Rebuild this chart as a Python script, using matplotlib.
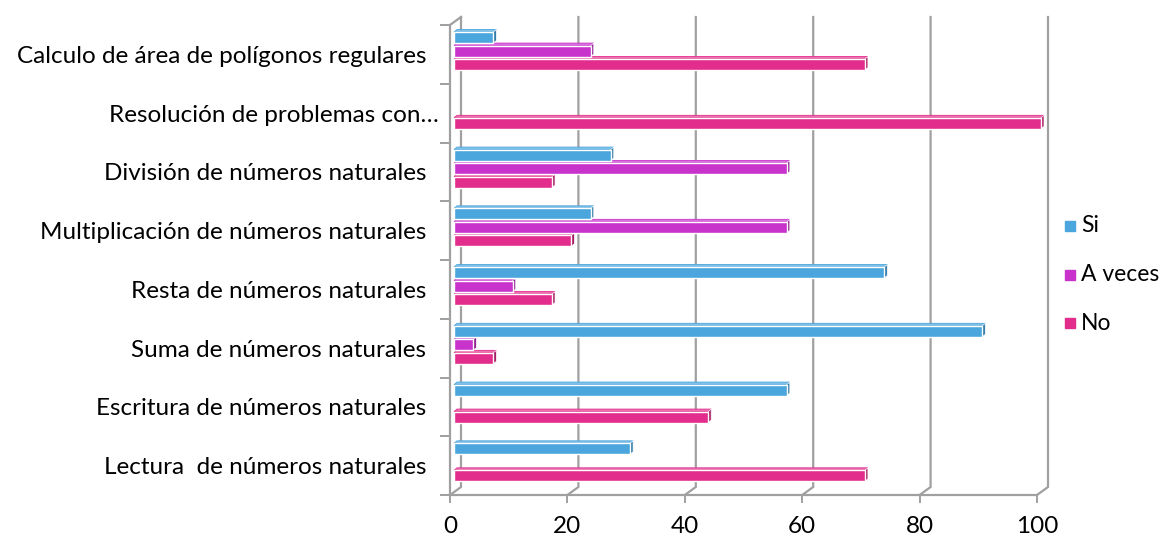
import matplotlib
matplotlib.use("Agg")
import matplotlib.pyplot as plt
import numpy as np
from matplotlib.patches import Polygon, Rectangle

plt.rcParams['font.family'] = ['Lato', 'DejaVu Sans']

categories = [
    "Lectura  de números naturales  ",
    "Escritura de números naturales  ",
    "Suma de números naturales  ",
    "Resta de números naturales  ",
    "Multiplicación de números naturales  ",
    "División de números naturales  ",
    "Resolución de problemas con…",
    "Calculo de área de polígonos regulares  ",
]
si = [30.0, 56.7, 90.0, 73.3, 23.3, 26.7, 0.0, 6.7]
a_veces = [0.0, 0.0, 3.3, 10.0, 56.7, 56.7, 0.0, 23.3]
no = [70.0, 43.3, 6.7, 16.7, 20.0, 16.7, 100.0, 70.0]
series_names = ["Si", "A veces", "No"]
xticks = [0, 20, 40, 60, 80, 100]

colors = ["#4BA6DD", "#C833CB", "#E32D8D"]
tops = ["#7FC0E8", "#D86FDB", "#EC6FAF"]
sides = ["#2F79A6", "#8E1F91", "#A51B63"]

W, H = 1169, 540
fig = plt.figure(figsize=(W / 100, H / 100), dpi=100)
x0px, x1px = 450, 1037
ytop, ybot = 25, 495
ax = fig.add_axes([x0px / W, (H - ybot) / H, (x1px - x0px) / W, (ybot - ytop) / H])
n = len(categories)
ax.set_xlim(0, 100)
ax.set_ylim(-0.5, n - 0.5)

pxx = (x1px - x0px) / 100.0
pxy = (ybot - ytop) / n
# back-plane offset
dx, dy = 11 / pxx, 8 / pxy
# bar front offset and depth
bdx, bdy = 4 / pxx, 3.3 / pxy
ddx, ddy = 3 / pxx, 2.5 / pxy

grid_c = "#A0A0A0"
for v in xticks:
    ax.plot([v, v + dx, v + dx], [-0.5, -0.5 + dy, n - 0.5 + dy], color=grid_c, lw=1.6,
            zorder=1, clip_on=False, solid_joinstyle='miter')
ax.plot([0, dx], [n - 0.5, n - 0.5 + dy], color=grid_c, lw=1.6, zorder=1, clip_on=False)

slot = 13.5 / pxy
bh = 11 / pxy
ypos = np.arange(n)
for k, vals in enumerate([si, a_veces, no]):
    yc = ypos + (1 - k) * slot + bdy
    lws = [1.0 if v > 0 else 0.0 for v in vals]
    ax.barh(yc, vals, left=bdx, height=bh, color=colors[k], edgecolor="white",
            linewidth=lws, zorder=3, label=series_names[k], clip_on=False)
    for y, v in zip(yc, vals):
        if v <= 0:
            continue
        xl, xr = bdx, bdx + v
        yt, yb = y + bh / 2, y - bh / 2
        top = Polygon([(xl, yt), (xr, yt), (xr + ddx, yt + ddy), (xl + ddx, yt + ddy)],
                      closed=True, facecolor=tops[k], edgecolor=colors[k], lw=0.6,
                      zorder=2.5, clip_on=False)
        side = Polygon([(xr, yb), (xr, yt), (xr + ddx, yt + ddy), (xr + ddx, yb + ddy)],
                       closed=True, facecolor=sides[k], edgecolor="white", lw=0.5,
                       zorder=2.6, clip_on=False)
        ax.add_patch(top)
        ax.add_patch(side)

for s in ["top", "right"]:
    ax.spines[s].set_visible(False)
for s in ["left", "bottom"]:
    ax.spines[s].set_color(grid_c)
    ax.spines[s].set_linewidth(1.6)
    ax.spines[s].set_zorder(1)

fs = 17.5
ax.set_xticks(xticks)
ax.set_xticklabels([str(t) for t in xticks], fontsize=fs, color="black")
ax.tick_params(axis='x', length=6, width=1.4, color=grid_c, pad=9)
ax.set_yticks(ypos)
ax.set_yticklabels(categories, fontsize=fs, color="black")
ax.tick_params(axis='y', which='major', length=0, pad=8)
ax.set_yticks(np.arange(-0.5, n, 1.0), minor=True)
ax.tick_params(axis='y', which='minor', length=7, width=1.4, color=grid_c)

# legend drawn at the reference position
leg_y0, leg_dy = 226, 48.5
for i, (name, c) in enumerate(zip(series_names, colors)):
    yc = leg_y0 + leg_dy * i
    fig.add_artist(Rectangle((1065 / W, 1 - (yc + 5) / H), 10 / W, 10 / H,
                             transform=fig.transFigure, facecolor=c, edgecolor=c))
    fig.text(1081 / W, 1 - yc / H, name, fontsize=16.5, va='center', ha='left', color="black")

fig.savefig("out.png", dpi=100)
